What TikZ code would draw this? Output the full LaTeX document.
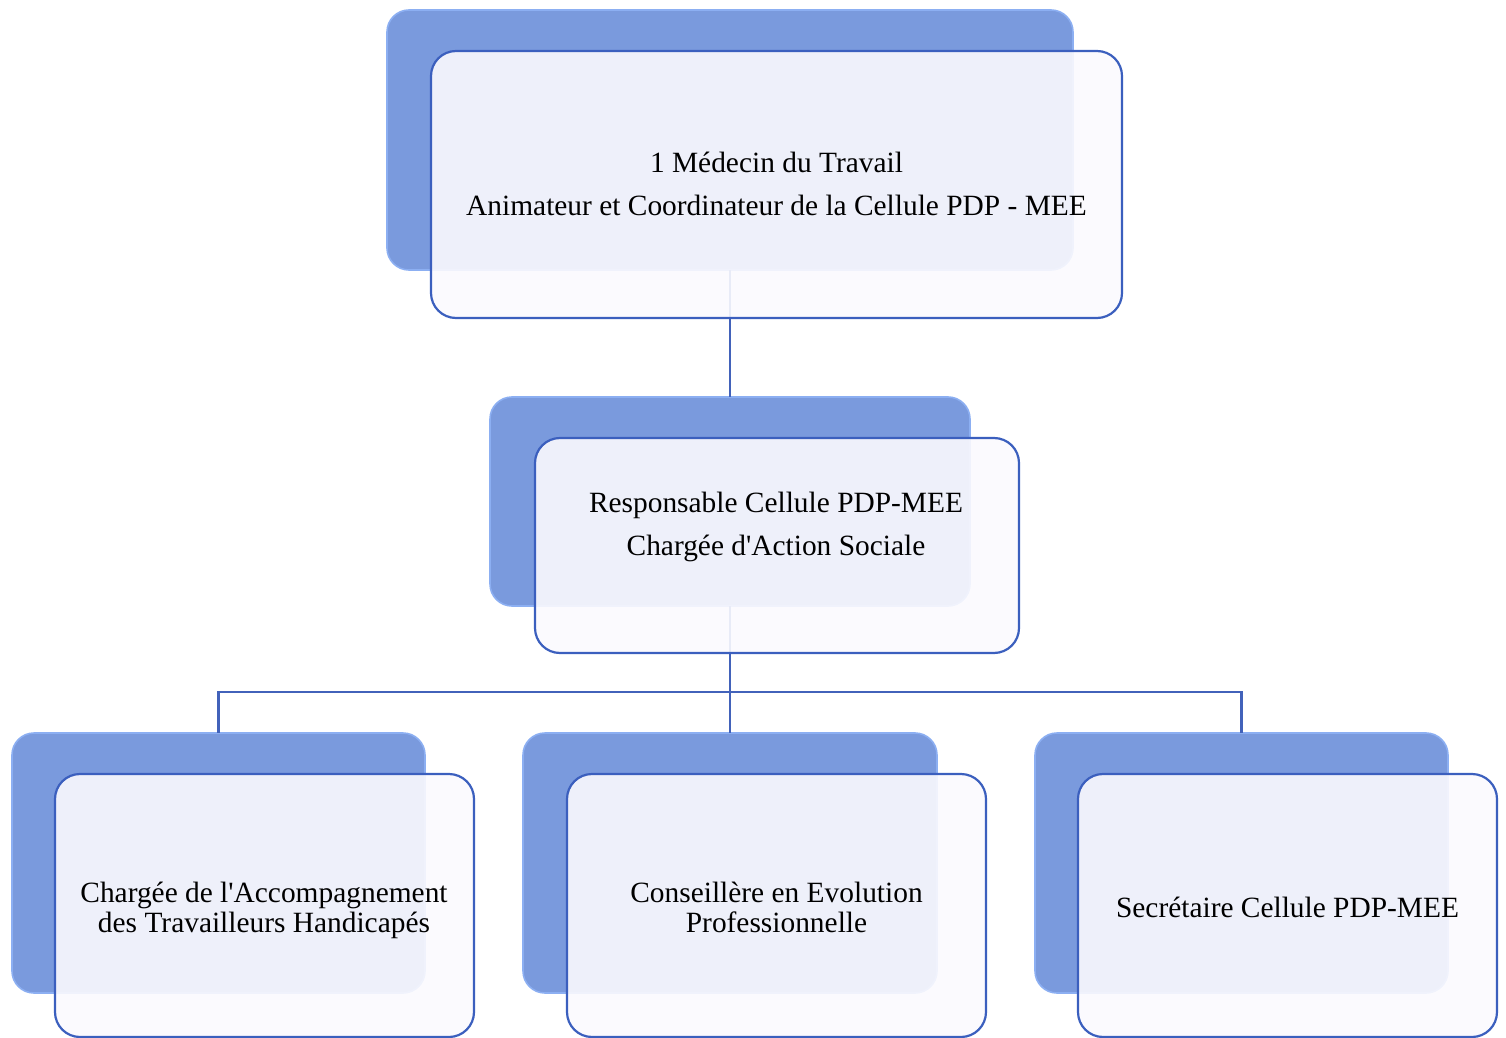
\documentclass[tikz,border=0pt]{standalone}
\usepackage{fontspec}
\setmainfont{Liberation Serif}
\definecolor{backblue}{RGB}{122,154,221}
\definecolor{backrim}{RGB}{140,175,242}
\definecolor{frontfill}{RGB}{251,250,254}
\definecolor{edgeblue}{RGB}{59,95,190}
\definecolor{linkblue}{RGB}{66,98,186}
\begin{document}
\begin{tikzpicture}[x=0.5pt,y=-0.5pt,
  backbox/.style={rectangle,rounded corners=11pt,fill=backblue,draw=backrim,line width=0.8pt,inner sep=0pt,outer sep=0pt},
  frontbox/.style={rectangle,rounded corners=12.5pt,fill=frontfill,fill opacity=0.9,draw=edgeblue,draw opacity=1,line width=1.1pt,inner sep=0pt,outer sep=0pt},
  label/.style={font=\fontsize{14.7pt}{21.5pt}\selectfont,align=center,text=black,inner sep=0pt},
  labeltight/.style={font=\fontsize{14.7pt}{15pt}\selectfont,align=center,text=black,inner sep=0pt},
  link/.style={draw=linkblue,line width=1.4pt}]
\useasboundingbox (0,0) rectangle (1506,1038);
% back boxes
\node[backbox,minimum width=343pt,minimum height=130pt] (topback) at (730,140) {};
\node[backbox,minimum width=240pt,minimum height=104.5pt] (midback) at (730,501.5) {};
\node[backbox,minimum width=206.5pt,minimum height=130pt] (b1back) at (218.5,863) {};
\node[backbox,minimum width=207pt,minimum height=130pt] (b2back) at (730,863) {};
\node[backbox,minimum width=206.5pt,minimum height=130pt] (b3back) at (1241.5,863) {};
% connectors
\coordinate (bus) at (730,692);
\draw[link] (topback.south) -- (midback.north);
\draw[link] (midback.south) -- (bus) -| (b1back.north);
\draw[link] (bus) -- (b2back.north);
\draw[link] (bus) -| (b3back.north);
% front boxes
\node[frontbox,minimum width=345.5pt,minimum height=133.5pt] (topfront) at (776.5,184.5) {};
\node[frontbox,minimum width=242pt,minimum height=107.5pt] (midfront) at (777,545.5) {};
\node[frontbox,minimum width=209.5pt,minimum height=131.5pt] (b1front) at (264.5,905.5) {};
\node[frontbox,minimum width=209.5pt,minimum height=131.5pt] (b2front) at (776.5,905.5) {};
\node[frontbox,minimum width=209.5pt,minimum height=131.5pt] (b3front) at (1287.5,905.5) {};
% texts
\node[label] (toptext) at (776.5,184) {1 Médecin du Travail\\Animateur et Coordinateur de la Cellule PDP - MEE};
\node[label] (midtext) at (776,526.5) {Responsable Cellule PDP-MEE\\Chargée d\textquotesingle Action Sociale};
\node[labeltight] (b1text) at (264,910) {Chargée de l\textquotesingle Accompagnement\\des Travailleurs Handicapés};
\node[labeltight] (b2text) at (776.5,907) {Conseillère en Evolution\\Professionnelle};
\node[labeltight] (b3text) at (1287.5,907) {Secrétaire Cellule PDP-MEE};
\end{tikzpicture}
\end{document}
